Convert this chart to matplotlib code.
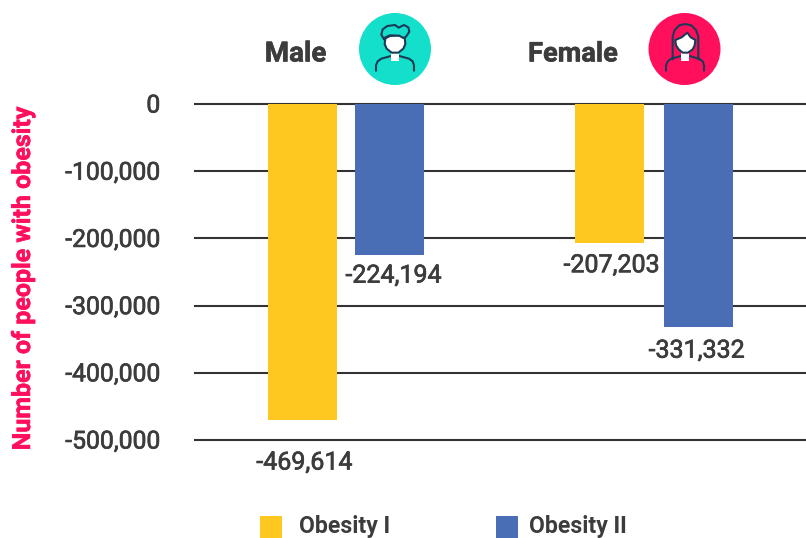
import numpy as np
import matplotlib
matplotlib.use('Agg')
import matplotlib.pyplot as plt
import matplotlib.patheffects as pe
from matplotlib.patches import Circle, Polygon, Rectangle
from matplotlib.transforms import ScaledTranslation

plt.rcParams['font.family'] = ['Roboto', 'DejaVu Sans']

groups = ['Male', 'Female']
series = ['Obesity I', 'Obesity II']
obesity_1 = [-469614, -207203]
obesity_2 = [-224194, -331332]
yticks = [0, -100000, -200000, -300000, -400000, -500000]
ylabel = 'Number of people with obesity'

YELLOW = '#FFC820'
BLUE = '#4A6EB5'
TEXT = '#3C3C3C'
GRID = '#333333'
TEAL = '#14DFCB'
PINK = '#FF0F5C'
ICON = '#1B3A57'

W, H = 806, 538
fig = plt.figure(figsize=(W / 100, H / 100), dpi=100)


def heavy(color, w=0.5):
    # thin outline to thicken the text a little
    return [pe.withStroke(linewidth=w, foreground=color)]


# main axes spans the gridlines, x runs in pixels so the bars are easy to place
ax = fig.add_axes([195 / W, 1 - 440 / H, 611 / W, 336 / H])
ax.set_xlim(195, 806)
ax.set_ylim(-500000, 0)
ax.set_xticks([])
ax.set_yticks(yticks)
ax.set_yticklabels(['0' if v == 0 else '-{:,}'.format(-v) for v in yticks],
                   fontsize=17.8, color=TEXT)
ax.tick_params(axis='y', length=0, pad=25)
for lab in ax.get_yticklabels():
    lab.set_transform(lab.get_transform() + ScaledTranslation(0, 1 / 100, fig.dpi_scale_trans))
    lab.set_path_effects(heavy(TEXT))
for s in ax.spines.values():
    s.set_visible(False)
for v in yticks:
    ax.axhline(v, color=GRID, lw=1.5, zorder=1, clip_on=False)

x1 = [302.5, 609.5]
x2 = [389.5, 698.5]
ax.bar(x1, obesity_1, width=69, color=YELLOW, zorder=2)
ax.bar(x2, obesity_2, width=69, color=BLUE, zorder=2)

# value labels hang below each bar
label_off_1 = [(2, -43), (2, -22)]
label_off_2 = [(4, -21), (-2, -24)]
for xs, vals, offs in [(x1, obesity_1, label_off_1), (x2, obesity_2, label_off_2)]:
    for x, v, off in zip(xs, vals, offs):
        ax.annotate('-{:,}'.format(-v), (x, v), xytext=off, textcoords='offset pixels',
                    ha='center', va='center', fontsize=18, color=TEXT, zorder=3,
                    path_effects=heavy(TEXT))

# overlay in pixel coordinates for the headers, icons and legend
ov = fig.add_axes([0, 0, 1, 1], facecolor='none')
ov.set_xlim(0, W)
ov.set_ylim(H, 0)
ov.axis('off')

ov.text(295.5, 54, groups[0], ha='center', va='center', fontsize=20, fontweight='bold', color=TEXT,
        path_effects=heavy(TEXT, 0.4))
ov.text(573, 54, groups[1], ha='center', va='center', fontsize=19.6, fontweight='bold', color=TEXT,
        path_effects=heavy(TEXT, 0.4))
ov.text(23, 278, ylabel, rotation=90, ha='center', va='center', fontsize=18,
        fontweight='bold', color=PINK, path_effects=heavy(PINK, 0.4))


def shape(pts, ox, fc='none', closed=True):
    pts = np.array(pts, dtype=float) / 3 + [ox, 0]
    ov.add_patch(Polygon(pts, closed=closed, fc=fc, ec=ICON, lw=1.5, joinstyle='round', capstyle='round'))


def person(ox):
    # shoulders and neck are shared by both icons
    shape([(108, 212), (108, 196), (113, 184), (124, 176), (153, 168), (178, 168),
           (207, 176), (218, 184), (222, 196), (222, 212)], ox, closed=False)
    neck = np.array([(153, 150), (153, 183), (178, 183), (178, 150)], dtype=float) / 3 + [ox, 0]
    ov.add_patch(Polygon(neck, closed=True, fc='white', ec='none'))


# male icon
ov.add_patch(Circle((395, 49), 36, fc=TEAL, ec='none'))
person(340)
shape([(136, 115), (134, 132), (140, 146), (155, 158), (175, 158), (190, 146),
       (196, 132), (194, 112), (175, 106), (150, 108)], 340, fc='white')
shape([(132, 118), (124, 104), (128, 88), (142, 78), (165, 75), (176, 83), (192, 75),
       (205, 82), (208, 95), (198, 110), (190, 114), (178, 107), (150, 106), (136, 112)],
      340, fc=TEAL)

# female icon
ov.add_patch(Circle((684.5, 49), 36, fc=PINK, ec='none'))
person(630)
shape([(128, 178), (128, 110), (134, 90), (148, 76), (165, 72), (184, 76), (198, 90),
       (205, 110), (205, 178)], 630, closed=False)
shape([(136, 120), (138, 136), (146, 148), (158, 158), (174, 158), (188, 148), (194, 136),
       (196, 120), (182, 112), (172, 98), (155, 112)], 630, fc='white')

# legend, baseline kept high enough for the descender to fit
ov.add_patch(Rectangle((260, 516), 22, 22, fc=YELLOW, ec='none'))
ov.add_patch(Rectangle((496, 516), 22, 22, fc=BLUE, ec='none'))
ov.text(299, 533, series[0], ha='left', va='baseline', fontsize=16.6, fontweight='bold', color=TEXT)
ov.text(529, 533, series[1], ha='left', va='baseline', fontsize=16.6, fontweight='bold', color=TEXT)

fig.savefig('out.png', dpi=100)
